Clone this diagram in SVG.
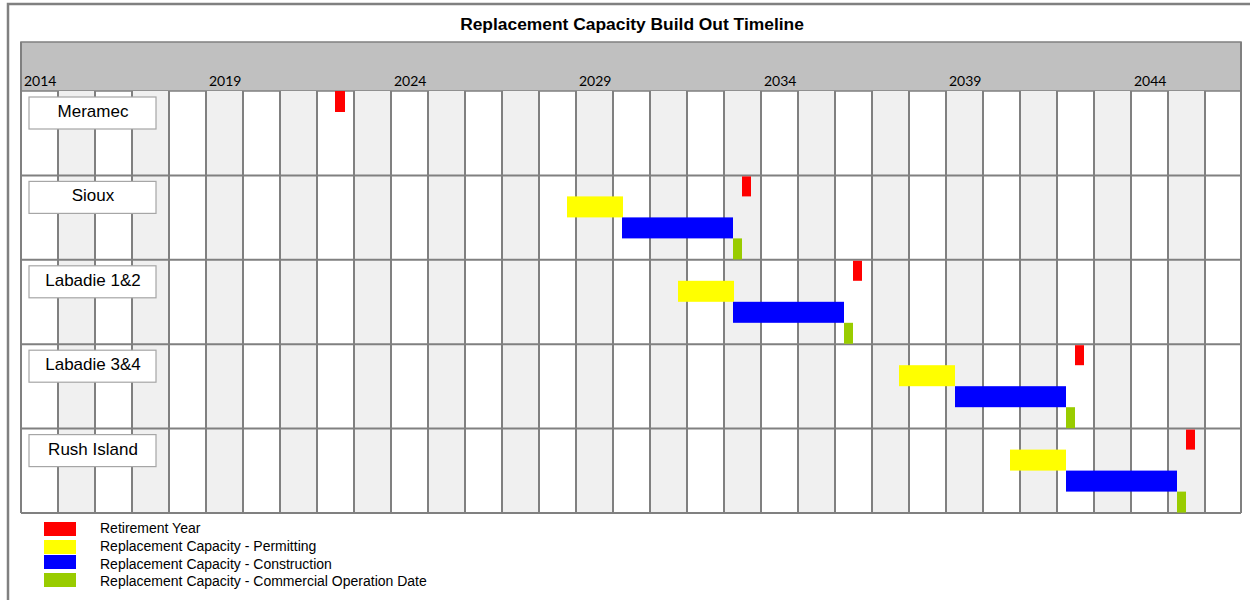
<svg xmlns="http://www.w3.org/2000/svg" width="1250" height="600" viewBox="0 0 1250 600">
<style>
.frame{fill:none;stroke:#808080;stroke-width:2.5}
.band{fill:#c0c0c0;stroke:#808080;stroke-width:1.5}
.shade{fill:#f0f0f0}
.grid{stroke:#808080;stroke-width:2;fill:none}
.title{font-family:"Liberation Sans",Arial,sans-serif;font-weight:bold;font-size:17.4px;fill:#000}
.year{font-family:Lato,"Liberation Sans",sans-serif;font-size:14px;fill:#000}
.lblbox{fill:#fff;stroke:#a6a6a6;stroke-width:1.2}
.lbl{font-family:"Liberation Sans",Arial,sans-serif;font-size:17px;fill:#000;text-anchor:middle}
.leg{font-family:"Liberation Sans",Arial,sans-serif;font-size:14px;fill:#000}
.red{fill:#ff0000}.yel{fill:#ffff00}.blu{fill:#0000ff}.grn{fill:#99cc00}
</style>
<rect width="1250" height="600" fill="#fff"/>
<path class="frame" d="M8,601 V4 H1252"/>
<text class="title" x="632" y="30" text-anchor="middle">Replacement Capacity Build Out Timeline</text>
<g id="header">
<rect class="band" x="21" y="42" width="1220" height="49"/>
<text class="year" x="24" y="86">2014</text>
<text class="year" x="209" y="86">2019</text>
<text class="year" x="394" y="86">2024</text>
<text class="year" x="579" y="86">2029</text>
<text class="year" x="764" y="86">2034</text>
<text class="year" x="949" y="86">2039</text>
<text class="year" x="1134" y="86">2044</text>
</g>
<g id="shading">
<rect class="shade" x="58" y="91" width="37" height="422"/>
<rect class="shade" x="132" y="91" width="37" height="422"/>
<rect class="shade" x="206" y="91" width="37" height="422"/>
<rect class="shade" x="280" y="91" width="37" height="422"/>
<rect class="shade" x="354" y="91" width="37" height="422"/>
<rect class="shade" x="428" y="91" width="37" height="422"/>
<rect class="shade" x="502" y="91" width="37" height="422"/>
<rect class="shade" x="576" y="91" width="37" height="422"/>
<rect class="shade" x="650" y="91" width="37" height="422"/>
<rect class="shade" x="724" y="91" width="37" height="422"/>
<rect class="shade" x="798" y="91" width="37" height="422"/>
<rect class="shade" x="872" y="91" width="37" height="422"/>
<rect class="shade" x="946" y="91" width="37" height="422"/>
<rect class="shade" x="1020" y="91" width="37" height="422"/>
<rect class="shade" x="1094" y="91" width="37" height="422"/>
<rect class="shade" x="1168" y="91" width="37" height="422"/>
</g>
<g id="connectors" class="grid">
<path d="M21,42 V513 M58,91 V513 M95,91 V513 M132,91 V513 M169,91 V513 M206,91 V513 M243,91 V513 M280,91 V513 M317,91 V513 M354,91 V513 M391,91 V513 M428,91 V513 M465,91 V513 M502,91 V513 M539,91 V513 M576,91 V513 M613,91 V513 M650,91 V513 M687,91 V513 M724,91 V513 M761,91 V513 M798,91 V513 M835,91 V513 M872,91 V513 M909,91 V513 M946,91 V513 M983,91 V513 M1020,91 V513 M1057,91 V513 M1094,91 V513 M1131,91 V513 M1168,91 V513 M1205,91 V513 M1241,42 V513"/>
<path d="M21,175.4 H1241 M21,259.8 H1241 M21,344.2 H1241 M21,428.6 H1241 M21,513 H1241"/>
</g>
<g id="meramec">
<rect class="lblbox" x="29" y="97" width="127" height="32"/>
<text class="lbl" x="93" y="117">Meramec</text>
<rect class="red" x="335" y="91" width="10" height="21"/>
</g>
<g id="sioux">
<rect class="lblbox" x="29" y="181.4" width="127" height="32"/>
<text class="lbl" x="93" y="201.4">Sioux</text>
<rect class="red" x="742" y="176.4" width="9" height="20"/>
<rect class="yel" x="567" y="196.4" width="56" height="21"/>
<rect class="blu" x="622" y="217.4" width="111" height="21"/>
<rect class="grn" x="733" y="238.4" width="9" height="21"/>
</g>
<g id="labadie12">
<rect class="lblbox" x="29" y="265.8" width="127" height="32"/>
<text class="lbl" x="93" y="285.8">Labadie 1&amp;2</text>
<rect class="red" x="853" y="260.8" width="9" height="20"/>
<rect class="yel" x="678" y="280.8" width="56" height="21"/>
<rect class="blu" x="733" y="301.8" width="111" height="21"/>
<rect class="grn" x="844" y="322.8" width="9" height="21"/>
</g>
<g id="labadie34">
<rect class="lblbox" x="29" y="350.2" width="127" height="32"/>
<text class="lbl" x="93" y="370.2">Labadie 3&amp;4</text>
<rect class="red" x="1075" y="345.2" width="9" height="20"/>
<rect class="yel" x="899" y="365.2" width="56" height="21"/>
<rect class="blu" x="955" y="386.2" width="111" height="21"/>
<rect class="grn" x="1066" y="407.2" width="9" height="21"/>
</g>
<g id="rushisland">
<rect class="lblbox" x="29" y="434.6" width="127" height="32"/>
<text class="lbl" x="93" y="454.6">Rush Island</text>
<rect class="red" x="1186" y="429.6" width="9" height="20"/>
<rect class="yel" x="1010" y="449.6" width="56" height="21"/>
<rect class="blu" x="1066" y="470.6" width="111" height="21"/>
<rect class="grn" x="1177" y="491.6" width="9" height="21"/>
</g>
<g id="legend">
<rect class="red" x="44" y="522" width="32" height="14"/>
<rect class="yel" x="44" y="540" width="32" height="14"/>
<rect class="blu" x="44" y="555" width="32" height="14"/>
<rect class="grn" x="44" y="573" width="32" height="14"/>
<text class="leg" x="100" y="533">Retirement Year</text>
<text class="leg" x="100" y="551">Replacement Capacity - Permitting</text>
<text class="leg" x="100" y="569">Replacement Capacity - Construction</text>
<text class="leg" x="100" y="586">Replacement Capacity - Commercial Operation Date</text>
</g>
</svg>
